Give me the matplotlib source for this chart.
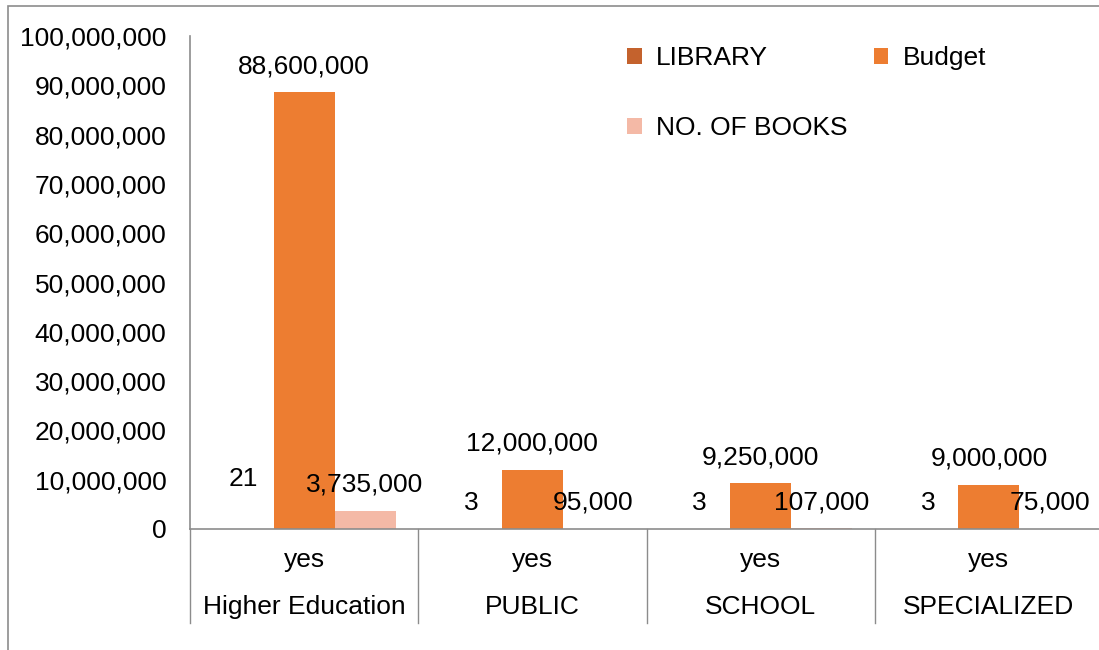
import matplotlib
matplotlib.use("Agg")
import matplotlib.pyplot as plt
from matplotlib.patches import Rectangle
from matplotlib.ticker import FuncFormatter, MultipleLocator
import numpy as np

plt.rcParams["font.family"] = ["Liberation Sans", "DejaVu Sans"]

categories = ["Higher Education", "PUBLIC", "SCHOOL", "SPECIALIZED"]
sub_labels = ["yes", "yes", "yes", "yes"]
series_names = ["LIBRARY", "Budget", "NO. OF BOOKS"]
library = [21, 3, 3, 3]
budget = [88600000, 12000000, 9250000, 9000000]
books = [3735000, 95000, 107000, 75000]

colors = ["#C4622D", "#ED7D31", "#F4B9A6"]
gray = "#8C8C8C"
FS = 19

fig = plt.figure(figsize=(10.99, 6.5), dpi=100)
ax = fig.add_axes([190 / 1099, 121 / 650, 913 / 1099, 493 / 650])

# outer chart border
fig.patches.append(Rectangle((8 / 1099, -0.1), 1.2, 0.1 + (650 - 6) / 650,
                             transform=fig.transFigure, fill=False,
                             edgecolor=gray, linewidth=1.2))

x = np.arange(len(categories)) + 0.5
w = 0.267
data = [library, budget, books]
bars = []
for i, (vals, name) in enumerate(zip(data, series_names)):
    b = ax.bar(x + (i - 1) * w, vals, w, color=colors[i], label=name)
    bars.append(b)
    for j, (rect, v) in enumerate(zip(b, vals)):
        off = 26
        if i == 0 and j == 0:
            off = 50
        ax.annotate(f"{v:,.0f}", (rect.get_x() + rect.get_width() / 2, rect.get_height()),
                    xytext=(0, off * 72 / 100), textcoords="offset points",
                    ha="center", va="center", fontsize=FS)

ax.set_xlim(0, len(categories))
ax.set_ylim(0, 100000000)
ax.yaxis.set_major_locator(MultipleLocator(10000000))
ax.yaxis.set_major_formatter(FuncFormatter(lambda v, p: f"{v:,.0f}"))
ax.tick_params(axis="y", length=0, pad=17, labelsize=FS)
ax.set_xticks([])

for s in ["top", "right"]:
    ax.spines[s].set_visible(False)
for s in ["left", "bottom"]:
    ax.spines[s].set_color(gray)
    ax.spines[s].set_linewidth(1.2)

# multi-level category axis
trans = ax.get_xaxis_transform()
for k in range(len(categories) + 1):
    ax.plot([k, k], [0, -0.19], transform=trans, color=gray, lw=1.0, clip_on=False)
for xi, sub, cat in zip(x, sub_labels, categories):
    ax.text(xi, -0.063, sub, transform=trans, ha="center", va="center", fontsize=FS)
    ax.text(xi, -0.158, cat, transform=trans, ha="center", va="center", fontsize=FS)

handles = [bars[0], bars[2], bars[1]]
labels = [series_names[0], series_names[2], series_names[1]]
ax.legend(handles, labels, ncol=2, loc="upper left",
          bbox_to_anchor=(627 / 1099, 1 - 46 / 650), bbox_transform=fig.transFigure,
          frameon=False, fontsize=FS, borderpad=0, borderaxespad=0,
          handlelength=0.55, handleheight=0.55, handletextpad=0.55,
          labelspacing=1.75, columnspacing=1.0)

fig.savefig("out.png", dpi=100)
